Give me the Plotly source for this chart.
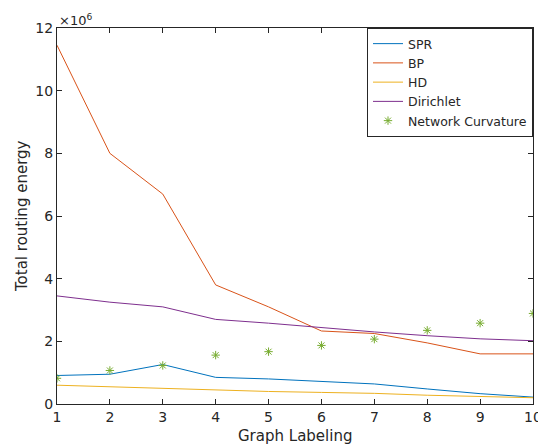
import plotly.graph_objects as go

x = [1, 2, 3, 4, 5, 6, 7, 8, 9, 10]
spr = [0.91, 0.95, 1.26, 0.85, 0.80, 0.71, 0.64, 0.48, 0.33, 0.22]
bp = [11.45, 8.0, 6.7, 3.8, 3.1, 2.33, 2.25, 1.95, 1.6, 1.6]
hd = [0.60, 0.55, 0.50, 0.43, 0.40, 0.37, 0.34, 0.28, 0.23, 0.20]
dirichlet = [3.45, 3.25, 3.1, 2.7, 2.58, 2.43, 2.3, 2.18, 2.08, 2.02]
curv = [0.82, 1.07, 1.23, 1.56, 1.67, 1.87, 2.07, 2.35, 2.58, 2.89]
scale = 1e6

fig = go.Figure()
def line(y, name, color):
    fig.add_trace(go.Scatter(x=x, y=[v * scale for v in y], mode="lines", name=name,
                             line=dict(color=color, width=1)))
line(spr, "SPR", "#0072BD")
line(bp, "BP", "#D95319")
line(hd, "HD", "#EDB120")
line(dirichlet, "Dirichlet", "#7E2F8E")
fig.add_trace(go.Scatter(x=x, y=[v * scale for v in curv], mode="markers", name="Network Curvature",
                         marker=dict(symbol="asterisk-open", size=7,
                                     line=dict(color="#77AC30", width=1), color="#77AC30")))

axis_common = dict(showgrid=False, zeroline=False, ticks="inside", ticklen=5, mirror="ticks",
                   showline=True, linecolor="#262626", linewidth=1, tickcolor="#262626",
                   tickfont=dict(size=14, color="#262626"), automargin=False)
fig.update_xaxes(range=[1, 10], tickvals=x, **axis_common)
fig.update_yaxes(range=[0, 12e6], tickvals=[i * scale for i in range(0, 13, 2)],
                 ticktext=[str(i) for i in range(0, 13, 2)], **axis_common)

fig.add_annotation(xref="paper", yref="paper", x=0, y=1, xanchor="left", yanchor="bottom",
                   text="×10<sup>6</sup>", showarrow=False, font=dict(size=13, color="#262626"), yshift=-2)
fig.add_annotation(xref="paper", yref="paper", x=0.5, y=0, xanchor="center", yanchor="top",
                   text="Graph Labeling", showarrow=False, font=dict(size=15, color="#262626"), yshift=-21)
fig.add_annotation(xref="paper", yref="paper", x=0, y=0.5, xanchor="right", yanchor="middle",
                   text="Total routing energy", showarrow=False, textangle=-90,
                   font=dict(size=15, color="#262626"), xshift=-24)

fig.update_layout(
    width=538, height=439,
    margin=dict(l=49, r=13, t=20, b=43),
    plot_bgcolor="white", paper_bgcolor="white",
    font=dict(family="DejaVu Sans", color="#262626"),
    legend=dict(x=1, y=1, xanchor="right", yanchor="top", bordercolor="#262626", borderwidth=1,
                bgcolor="white", font=dict(size=12.5), tracegroupgap=0, itemwidth=30),
)
fig.write_html("out.html")
